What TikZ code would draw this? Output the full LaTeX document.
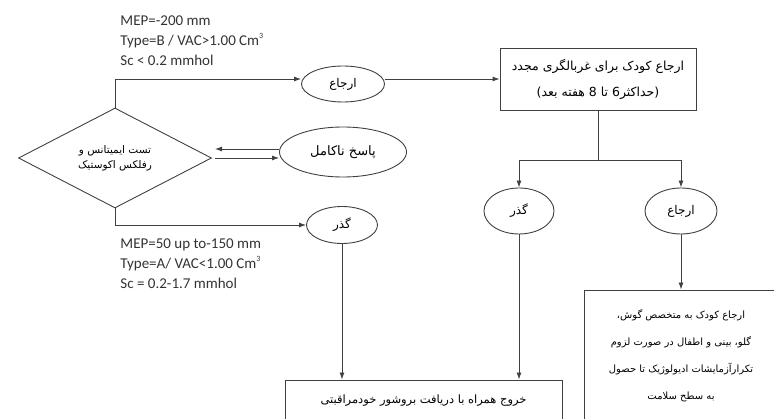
\documentclass[tikz,border=0pt]{standalone}
\usepackage{fontspec}
\setmainfont{Carlito}
\newfontfamily\arabicfont[Script=Arabic]{DejaVu Sans}
\TeXXeTstate=1
\newcommand{\fatxt}[1]{{\arabicfont\beginR #1\endR}}
\newcommand{\hoch}[1]{\raisebox{0.9ex}{\fontsize{8}{8}\selectfont #1}}
\usetikzlibrary{%
  arrows.meta,%
  shapes.geometric,% wg. diamond, ellipse
  positioning%
}

\begin{document}
\begin{tikzpicture}[x=1pt,y=-1pt]
 \useasboundingbox (0,0) rectangle (774,419);
 \begin{scope}[line width=0.9pt,black!75,
   pfeil/.style={-{Latex[length=7pt,width=5pt]}},
   ell/.style={draw,ellipse,inner sep=0pt,text=black,font=\fontsize{12}{14}\selectfont},
   box/.style={draw,rectangle,inner sep=0pt,align=center,text=black,font=\fontsize{12}{26}\selectfont},
   cond/.style={align=left,anchor=north west,inner sep=0pt,text=black!80,font=\fontsize{15}{20}\selectfont}]
   %Test
   \node[draw,diamond,minimum width=193pt,minimum height=100pt,inner sep=0pt,align=center,
         text=black,font=\fontsize{10.5}{15}\selectfont] (test) at (115,158)
         {\fatxt{تست ایمیتانس و}\\ \fatxt{رفلکس اکوستیک}};

   %linke Spalte
   \node[ell,minimum width=83pt,minimum height=36pt] (arj1) at (343,84) {\fatxt{ارجاع}};
   \node[ell,minimum width=127pt,minimum height=50pt,font=\fontsize{13}{15}\selectfont] (nak) at (343,152) {\fatxt{پاسخ ناکامل}};
   \node[ell,minimum width=71pt,minimum height=37pt] (gzr1) at (342,225) {\fatxt{گذر}};

   %rechte Spalte
   \node[box,minimum width=196pt,minimum height=62pt,font=\fontsize{12.5}{26}\selectfont] (screen) at (598,79)
         {\fatxt{ارجاع کودک برای غربالگری مجدد}\\ \fatxt{(حداکثر6 تا 8 هفته بعد)}};
   \node[ell,minimum width=70pt,minimum height=46pt] (gzr2) at (519,211) {\fatxt{گذر}};
   \node[ell,minimum width=72pt,minimum height=46pt] (arj2) at (681,211) {\fatxt{ارجاع}};
   \node[box,minimum width=277pt,minimum height=41pt,font=\fontsize{11.5}{14}\selectfont] (exit) at (423.5,400.5)
         {\fatxt{خروج همراه با دریافت بروشور خودمراقبتی}};
   \node[box,minimum width=194pt,minimum height=131pt,font=\fontsize{10}{27}\selectfont] (refer) at (681,355.5)
         {\fatxt{ارجاع کودک به متخصص گوش،}\\ \fatxt{گلو، بینی و اطفال در صورت لزوم}\\
          \fatxt{تکرارآزمایشات ادیولوژیک تا حصول}\\ \fatxt{به سطح سلامت}};

   %Bedingungen
   \node[cond] (condB) at (120,15) {MEP=-200 mm\\ Type=B / VAC>1.00 Cm\hoch{3}\\ Sc < 0.2 mmhol};
   \node[cond] (condA) at (120,238) {MEP=50 up to-150 mm\\ Type=A/ VAC<1.00 Cm\hoch{3}\\ Sc = 0.2-1.7 mmhol};

   %Pfeile
   \coordinate (back1) at (215,149);
   \coordinate (back2) at (215,158);
   \draw[pfeil] (test.north) |- (arj1.west |- screen.west);
   \draw[pfeil] (arj1.east |- screen.west) -- (screen.west);
   \draw[pfeil] (nak.west |- back1) -- (back1);
   \draw[pfeil] (back2) -- (nak.west |- back2);
   \draw[pfeil] (test.south) |- (gzr1.west);
   \draw (screen.south) -- ++(0,50) coordinate (split);
   \draw[pfeil] (split) -| (gzr2.north);
   \draw[pfeil] (split) -| (arj2.north);
   \draw[pfeil] (gzr1.south) -- (gzr1.south |- exit.north);
   \draw[pfeil] (gzr2.south) -- (gzr2.south |- exit.north);
   \draw[pfeil] (arj2.south) -- (arj2.south |- refer.north);
 \end{scope}
\end{tikzpicture}
\end{document}
